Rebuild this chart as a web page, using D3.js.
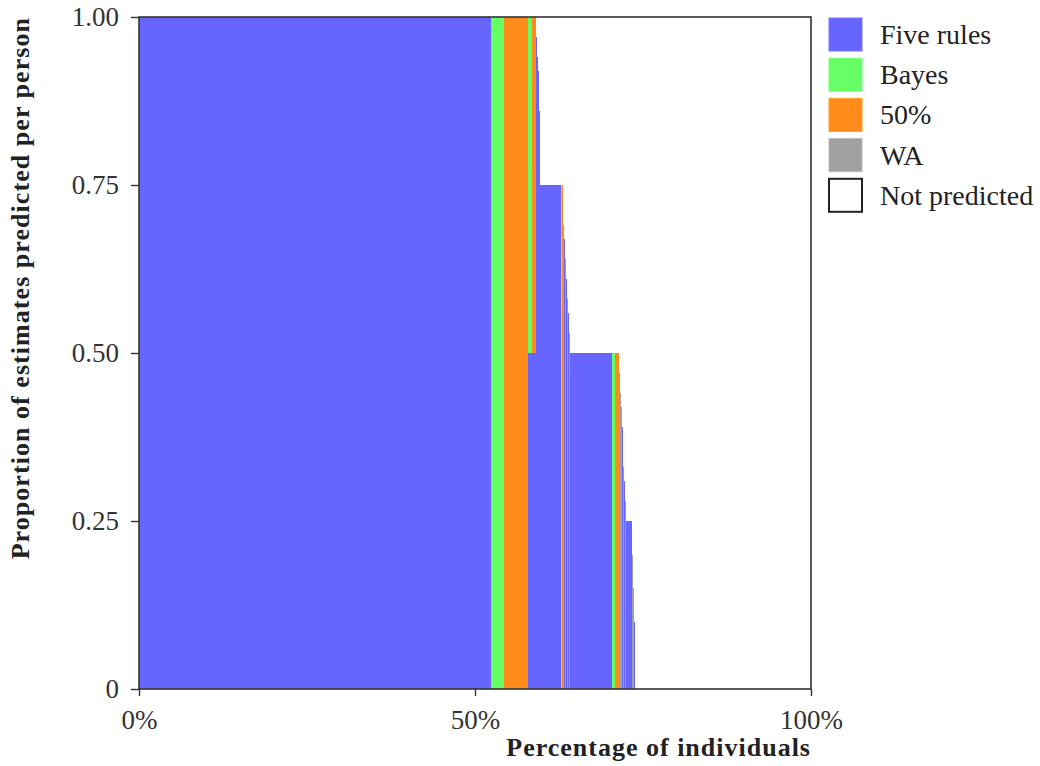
<!DOCTYPE html>
<html>
<head>
<meta charset="utf-8">
<script src="https://cdn.jsdelivr.net/npm/d3@7"></script>
<style>
  body { margin: 0; background: #fff; }
  text { font-family: "Liberation Serif", "DejaVu Serif", serif; }
</style>
</head>
<body>
<script>
// groups of individuals (sorted), share of estimates predicted by each model
var models = ["Five rules", "Bayes", "50%", "WA", "Not predicted"];
var colors = ["#6666ff", "#66ff66", "#ff8c1a", "#a0a0a0", "#ffffff"];

var runSize   = [352, 13, 24, 4, 4, 1, 1, 1, 1, 21, 1, 1, 1, 1, 1, 1, 1, 1, 1, 42, 3, 4, 1, 1, 1, 1, 1, 1, 1, 6, 1, 1, 1, 176];
var fiveRules = [1, 0, 0, 0.5, 0.5, 0.97, 0.94, 0.92, 0.86, 0.75, 0, 0, 0, 0.67, 0, 0.61, 0, 0.56, 0, 0.5, 0, 0, 0, 0, 0, 0.39, 0, 0.31, 0, 0.25, 0, 0, 0.1, 0];
var bayes     = [0, 1, 0, 0.5, 0, 0, 0, 0, 0, 0, 0.75, 0, 0, 0, 0, 0, 0, 0, 0, 0, 0.5, 0, 0, 0, 0, 0, 0, 0, 0, 0, 0, 0, 0, 0];
var fifty     = [0, 0, 1, 0, 0.5, 0, 0, 0, 0, 0, 0, 0.75, 0, 0, 0, 0, 0, 0, 0.53, 0, 0, 0.5, 0.47, 0, 0, 0, 0, 0, 0.28, 0, 0, 0.15, 0, 0];
var wa        = [0, 0, 0, 0, 0, 0, 0, 0, 0, 0, 0, 0, 0.69, 0, 0.64, 0, 0.58, 0, 0, 0, 0, 0, 0, 0.44, 0.42, 0, 0.33, 0, 0, 0, 0.2, 0, 0, 0];

var yTicks = [0, 0.25, 0.5, 0.75, 1];
var xTicks = [0, 0.5, 1];

var width = 1040, height = 766;
var plotL = 139, plotR = 811, plotT = 17, plotB = 689;

var N = d3.sum(runSize);
var table = [];
var cum = 0;
for (var i = 0; i < runSize.length; i++) {
  table.push({start: cum / N, end: (cum + runSize[i]) / N,
    "Five rules": fiveRules[i], "Bayes": bayes[i], "50%": fifty[i], "WA": wa[i]});
  cum += runSize[i];
}

var x = d3.scaleLinear().domain([0, 1]).range([plotL, plotR]);
var y = d3.scaleLinear().domain([0, 1]).range([plotB, plotT]);
var color = d3.scaleOrdinal().domain(models).range(colors);

var svg = d3.select("body").append("svg").attr("width", width).attr("height", height);

var stack = d3.stack().keys(models.slice(0, 4));
var layers = stack(table);

svg.append("g").selectAll("g").data(layers).join("g")
  .attr("fill", function(d){ return color(d.key); })
  .selectAll("rect").data(function(d){ return d; }).join("rect")
  .attr("shape-rendering", "crispEdges")
  .attr("x", function(d){ return x(d.data.start); })
  .attr("width", function(d){ return x(d.data.end) - x(d.data.start); })
  .attr("y", function(d){ return y(d[1]); })
  .attr("height", function(d){ return y(d[0]) - y(d[1]); });

// frame
svg.append("rect")
  .attr("x", plotL).attr("y", plotT)
  .attr("width", plotR - plotL).attr("height", plotB - plotT)
  .attr("fill", "none").attr("stroke", "#333").attr("stroke-width", 1.6);

// axes
var yAxis = d3.axisLeft(y).tickValues(yTicks).tickSize(8).tickPadding(12)
  .tickFormat(function(d){ return d === 0 ? "0" : d3.format(".2f")(d); });
var gy = svg.append("g").attr("transform", "translate(" + plotL + ",0)").call(yAxis);
gy.select(".domain").remove();

var xAxis = d3.axisBottom(x).tickValues(xTicks).tickSize(7).tickPadding(14).tickFormat(d3.format(".0%"));
var gx = svg.append("g").attr("transform", "translate(0," + plotB + ")").call(xAxis);
gx.select(".domain").remove();

svg.selectAll(".tick line").attr("stroke", "#333").attr("stroke-width", 1.4);
svg.selectAll(".tick text").attr("font-size", 27).attr("fill", "#333")
  .style("font-family", "'Liberation Serif', serif");

// titles
svg.append("text")
  .attr("x", plotR).attr("y", 756)
  .attr("text-anchor", "end")
  .attr("font-size", 26).attr("font-weight", "bold").attr("fill", "#222")
  .attr("letter-spacing", 1)
  .text("Percentage of individuals");

svg.append("text")
  .attr("transform", "translate(29," + plotT + ") rotate(-90)")
  .attr("text-anchor", "end")
  .attr("font-size", 26).attr("font-weight", "bold").attr("fill", "#222")
  .attr("letter-spacing", 1.05)
  .text("Proportion of estimates predicted per person");

// legend
var legend = svg.append("g").selectAll("g").data(models).join("g")
  .attr("transform", function(d, i){ return "translate(829," + (18 + i * 40.2) + ")"; });
legend.append("rect")
  .attr("width", 33).attr("height", 33)
  .attr("fill", function(d){ return color(d); })
  .attr("stroke", function(d){ return d === "Not predicted" ? "#222" : d3.color(color(d)).brighter(0.4); })
  .attr("stroke-width", function(d){ return d === "Not predicted" ? 2 : 1; });
legend.append("text")
  .attr("x", 51).attr("y", 26)
  .attr("font-size", 28).attr("fill", "#222")
  .text(function(d){ return d; });
</script>
</body>
</html>
